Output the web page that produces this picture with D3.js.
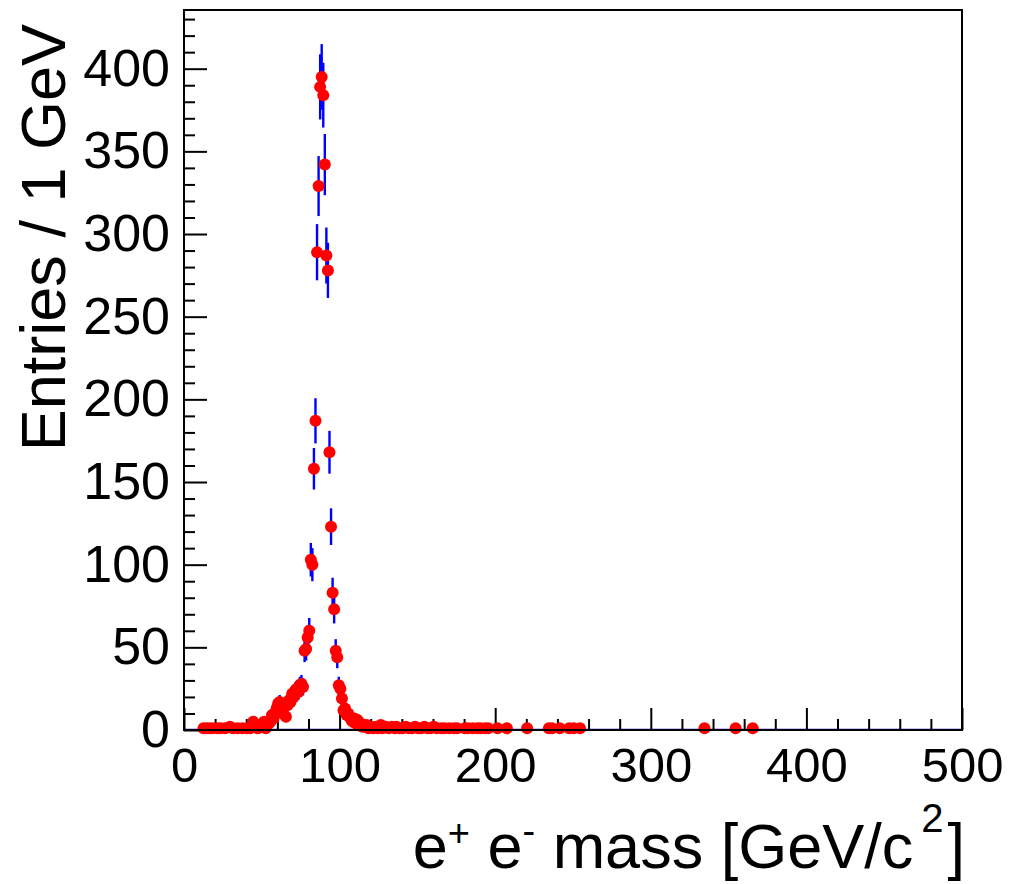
<!DOCTYPE html>
<html>
<head>
<meta charset="utf-8">
<script src="https://cdn.jsdelivr.net/npm/d3@7"></script>
<style>
html,body{margin:0;padding:0;background:#fff;}
svg{display:block;}
text{font-family:"Liberation Sans",Arial,sans-serif;fill:#000;}
</style>
</head>
<body>
<script>
// Bin lower edges (GeV), 1 GeV wide bins, and entries
const binEdges = [12,14,16,18,21,23,26,29,31,34,37,40,42,44,45,47,48,50,51,52,53,54,55,56,57,58,59,60,61,62,63,64,65,66,67,68,69,70,71,72,73,74,75,76,
  77,78,79,80,81,82,83,84,85,86,87,88,89,90,91,92,93,94,95,96,97,98,99,100,101,102,103,104,105,106,107,108,109,110,111,112,113,114,115,116,117,118,
  120,121,123,124,126,127,129,131,133,135,136,138,140,142,144,146,148,150,152,154,156,158,160,162,165,167,170,173,175,180,182,185,188,190,193,195,
  201,207,220,234,236,241,247,250,254,334,354,365];
const entries = [1,1,1,1,1,1,1,2,1,1,1,1,1,5,2,1,2,4,5,1,3,4,5,9,7,10,13,16,17,12,10,14,8,15,18,17,22,20,24,25,23,27,28,26,
  48,49,56,60,103,100,158,187,289,329,389,395,384,342,287,278,168,123,83,73,48,44,27,25,19,12,13,9,10,8,6,5,7,4,6,3,4,2,3,2,3,1,
  2,1,2,1,3,1,2,1,2,1,2,1,1,2,1,1,2,1,1,2,1,1,2,1,1,1,1,1,1,1,1,1,1,1,1,1,
  1,1,1,1,1,1,1,1,1,1,1,1];
const xTicksMajor = [0,100,200,300,400,500];
const yTicksMajor = [0,50,100,150,200,250,300,350,400];
const xDomain = [0,500];
const yDomain = [0,435.5];
const yTitle = "Entries / 1 GeV";

const W = 1012, H = 884;
const svg = d3.select("body").append("svg").attr("width", W).attr("height", H);

const x = d3.scaleLinear().domain(xDomain).range([184, 962]);
const y = d3.scaleLinear().domain(yDomain).range([730, 10]);

const data = binEdges.map((e, i) => ({c: e + 0.5, n: entries[i]}));

// zero line of histogram (blue)
svg.append("line").attr("x1", x(0)).attr("x2", x(500)).attr("y1", y(0) - 0.5).attr("y2", y(0) - 0.5)
  .attr("stroke", "#0000ff").attr("stroke-width", 1.5);

// Axes
const xMinor = d3.range(0, 501, 20).filter(v => v % 100 !== 0);
const yMinor = d3.range(0, 436, 10).filter(v => v % 50 !== 0);

const gx = svg.append("g").attr("transform", `translate(0,${y(0)})`);
gx.call(d3.axisBottom(x).tickValues(xMinor).tickSizeInner(-11).tickSizeOuter(0).tickFormat(""));
gx.call(g => g.selectAll(".domain").remove());
const gx2 = svg.append("g").attr("transform", `translate(0,${y(0)})`);
gx2.call(d3.axisBottom(x).tickValues(xTicksMajor).tickSizeInner(-22).tickSizeOuter(0).tickPadding(17).tickFormat(d3.format("d")));
gx2.call(g => g.selectAll(".domain").remove());
gx2.selectAll("text").attr("font-size", 49).attr("font-family", "Liberation Sans, Arial, sans-serif");

const gy = svg.append("g").attr("transform", `translate(${x(0)},0)`);
gy.call(d3.axisLeft(y).tickValues(yMinor).tickSizeInner(-11).tickSizeOuter(0).tickFormat(""));
gy.call(g => g.selectAll(".domain").remove());
const gy2 = svg.append("g").attr("transform", `translate(${x(0)},0)`);
gy2.call(d3.axisLeft(y).tickValues(yTicksMajor).tickSizeInner(-23).tickSizeOuter(0).tickPadding(14).tickFormat(d3.format("d")));
gy2.call(g => g.selectAll(".domain").remove());
gy2.selectAll("text").attr("font-size", 52).attr("font-family", "Liberation Sans, Arial, sans-serif");

svg.selectAll(".tick line").attr("stroke", "#000").attr("stroke-width", 2);

// Error bars
svg.append("g").selectAll("line").data(data).join("line")
  .attr("x1", d => x(d.c)).attr("x2", d => x(d.c))
  .attr("y1", d => y(d.n + Math.sqrt(d.n))).attr("y2", d => y(Math.max(0, d.n - Math.sqrt(d.n))))
  .attr("stroke", "#0000ff").attr("stroke-width", 2.4);

// Markers
svg.append("g").selectAll("circle").data(data).join("circle")
  .attr("cx", d => x(d.c)).attr("cy", d => y(d.n)).attr("r", 6).attr("fill", "#ff0000");

// Frame
svg.append("rect").attr("x", x(0)).attr("y", y(yDomain[1])).attr("width", x(500) - x(0)).attr("height", y(0) - y(yDomain[1]))
  .attr("fill", "none").attr("stroke", "#000").attr("stroke-width", 2);

// X title with superscripts
const xt = svg.append("text").attr("x", 965).attr("y", 868).attr("text-anchor", "end").attr("font-size", 63);
xt.append("tspan").text("e");
xt.append("tspan").attr("font-size", 38).attr("dy", -22).text("+");
xt.append("tspan").attr("dy", 22).text(" e");
xt.append("tspan").attr("font-size", 38).attr("dy", -24).text("-");
xt.append("tspan").attr("dy", 24).text(" mass [GeV/c");
xt.append("tspan").attr("font-size", 40).attr("dx", 8).attr("dy", -36).text("2");
xt.append("tspan").attr("dy", 36).attr("dx", 4).text("]");

// Y title
svg.append("text").attr("transform", "translate(65,24) rotate(-90)").attr("text-anchor", "end")
  .attr("font-size", 63).text(yTitle);
</script>
</body>
</html>
